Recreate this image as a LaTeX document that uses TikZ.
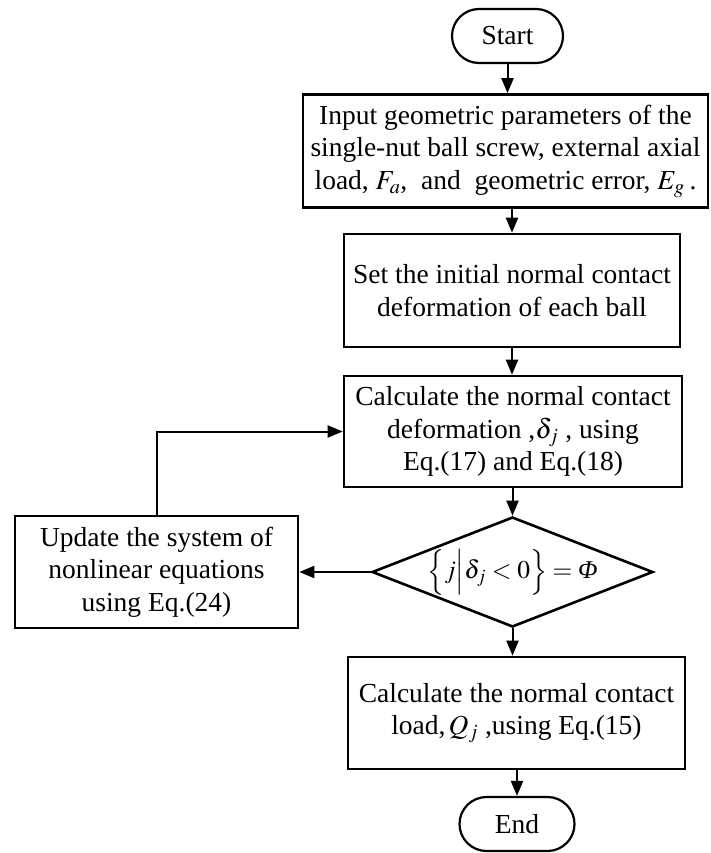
\documentclass[tikz,border=0pt]{standalone}
\usepackage{amsmath}
\usepackage{mathptmx}
\usepackage{fontspec}
\setmainfont{Liberation Serif}
\usetikzlibrary{arrows.meta,shapes.geometric,shapes.misc,positioning}

\begin{document}
\begin{tikzpicture}[x=1pt,y=-1pt,font=\fontsize{27.5pt}{32.5pt}\selectfont]
\tikzstyle{terminal} = [
	draw,
	rounded rectangle,
	line width=2.2pt,
	minimum width=111pt, %size of the start/end pill
	minimum height=54pt,
	inner sep=0pt
];
\tikzstyle{process} = [
	draw,
	rectangle,
	line width=2.6pt,
	align=center,
	inner sep=0pt
];
\tikzstyle{decision} = [
	draw,
	diamond,
	aspect=2.55,
	line width=2.6pt,
	inner sep=0pt,
	minimum width=281pt,
	minimum height=110pt,
	label distance=0pt
];
\tikzstyle{flow} = [line width=2pt, -{Triangle[length=15pt,width=12pt]}];

\useasboundingbox (0,0) rectangle (710,853);

\node[terminal](Start) at (507.5,36) {Start};
\node[process,minimum width=405pt,minimum height=113pt](Input) at (505.5,151) {Input geometric parameters of the\\ single-nut ball screw, external axial\\ load, $F_a$,\ \ and\ \ geometric error, $E_g$\,.};
\node[process,minimum width=336pt,minimum height=113pt](Init) at (512,290.5) {Set the initial normal contact\\ deformation of each ball};
\node[process,minimum width=338pt,minimum height=111pt](Defo) at (513,431.5) {Calculate the normal contact\\ deformation ,$\delta_j$ , using\\ Eq.(17) and Eq.(18)};
\node[decision,label={[font=\fontsize{25.5pt}{30pt}\selectfont]center:$\Bigl\{ j \Big| \delta_j < 0 \Bigr\} = \text{\itshape Φ}$}](Check) at (512.5,572) {};
\node[process,minimum width=283pt,minimum height=112pt](Update) at (156.5,572) {Update the system of\\ nonlinear equations\\ using Eq.(24)};
\node[process,minimum width=337pt,minimum height=112pt](Load) at (516.5,713) {Calculate the normal contact\\ load,$\,Q_j$ ,using Eq.(15)};
\node[terminal,minimum width=115pt](End) at (517,824) {End};

\draw [flow] (Start.south) -- (Start.south |- Input.north);
\draw [flow] (Init.north |- Input.south) -- (Init.north);
\draw [flow] (Init.south) -- (Init.south |- Defo.north);
\draw [flow] (Check.north |- Defo.south) -- (Check.north);
\draw [flow] (Check.south) -- (Check.south |- Load.north);
\draw [flow] (End.north |- Load.south) -- (End.north);
\draw [flow] (Check.west) -- (Update.east);
\draw [flow] (Update.north) |- (Defo.west);

\end{tikzpicture}
\end{document}
